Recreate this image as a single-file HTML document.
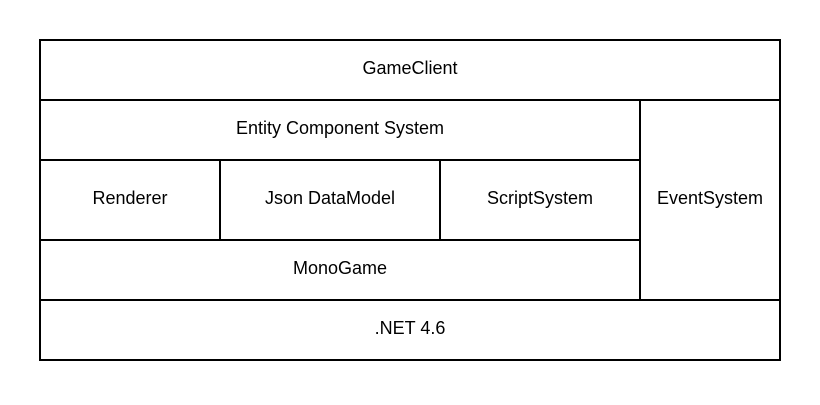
<!DOCTYPE html>
<html><head><style>html,body{margin:0;padding:0;background:#fff;}</style></head>
<body>
<svg width="820" height="400" xmlns="http://www.w3.org/2000/svg" font-family="Liberation Sans, sans-serif" font-size="18" fill="#000">
<rect x="0" y="0" width="820" height="400" fill="#fff"/>
<g stroke="#000" stroke-width="2" fill="none">
<rect x="40" y="40" width="740" height="320"/>
<line x1="40" y1="100" x2="780" y2="100"/>
<line x1="40" y1="300" x2="780" y2="300"/>
<line x1="40" y1="160" x2="640" y2="160"/>
<line x1="40" y1="240" x2="640" y2="240"/>
<line x1="640" y1="100" x2="640" y2="300"/>
<line x1="220" y1="160" x2="220" y2="240"/>
<line x1="440" y1="160" x2="440" y2="240"/>
</g>
<g text-anchor="middle" dominant-baseline="central">
<text x="410" y="68">GameClient</text>
<text x="340" y="128">Entity Component System</text>
<text x="130" y="198">Renderer</text>
<text x="330" y="198">Json DataModel</text>
<text x="540" y="198">ScriptSystem</text>
<text x="710" y="198">EventSystem</text>
<text x="340" y="268">MonoGame</text>
<text x="410" y="328">.NET 4.6</text>
</g>
</svg>
</body></html>
